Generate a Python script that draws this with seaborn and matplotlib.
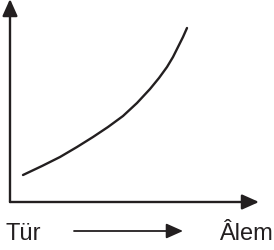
import numpy as np
import pandas as pd
import matplotlib
matplotlib.use("Agg")
import matplotlib.pyplot as plt
import seaborn as sns

# curve, origin at the axes corner
curve_x = [13, 32, 50, 67, 83, 98, 113, 127, 140, 149, 157, 163, 168, 173, 177]
curve_y = [27, 36, 45, 55, 65, 75, 86, 99, 113, 124, 135, 145, 155, 165, 174]

left_label = "Tür"
right_label = "Âlem"

sns.set_theme(style="white")
plt.rcParams["font.family"] = ["Liberation Sans", "DejaVu Sans"]

fig = plt.figure(figsize=(2.74, 2.51), dpi=100)
ax = fig.add_axes([0, 0, 1, 1])
ax.set_xlim(-10, 264)
ax.set_ylim(-48, 203)
ax.axis("off")

df = pd.DataFrame({"x": curve_x, "y": curve_y})
sns.lineplot(data=df, x="x", y="y", ax=ax, color="#231f20", linewidth=1.7, sort=False)

arrow = dict(arrowstyle="-|>,head_length=0.85,head_width=0.38", color="#231f20",
             linewidth=1.7, shrinkA=0, shrinkB=0)
# axes
ax.annotate("", xy=(0, 203), xytext=(0, 0), arrowprops=arrow)
ax.annotate("", xy=(249, 0), xytext=(0, 0), arrowprops=arrow)

# bottom labels
ax.text(-5, -37, left_label, fontsize=17, color="#231f20", ha="left", va="baseline")
ax.text(263, -37, right_label, fontsize=17, color="#231f20", ha="right", va="baseline")
ax.annotate("", xy=(173, -29), xytext=(64, -29),
            arrowprops=dict(arrow, linewidth=1.3))

fig.savefig("out.png", dpi=100)
